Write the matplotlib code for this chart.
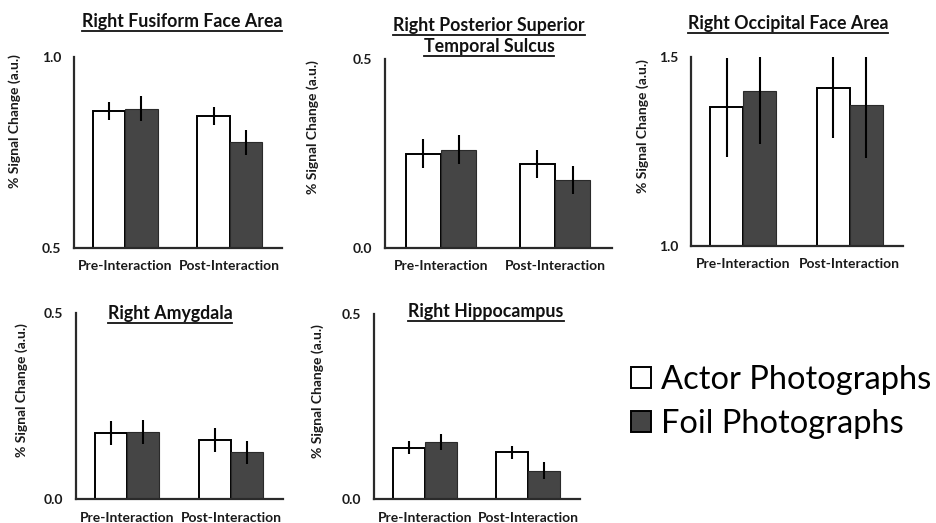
import matplotlib
matplotlib.use('Agg')
import matplotlib.pyplot as plt
from matplotlib.patches import Patch

plt.rcParams['font.family'] = ['Lato', 'DejaVu Sans']

# Datos
condicoes = ['Pre-Interaction', 'Post-Interaction']
series = ['Actor Photographs', 'Foil Photographs']

rffa_actor = [0.859, 0.846]
rffa_actor_err = [0.024, 0.023]
rffa_foil = [0.865, 0.777]
rffa_foil_err = [0.033, 0.033]

rpsts_actor = [0.250, 0.221]
rpsts_actor_err = [0.038, 0.037]
rpsts_foil = [0.260, 0.180]
rpsts_foil_err = [0.038, 0.038]

rofa_actor = [1.367, 1.417]
rofa_actor_err = [0.131, 0.131]
rofa_foil = [1.409, 1.373]
rofa_foil_err = [0.140, 0.141]

ramy_actor = [0.177, 0.158]
ramy_actor_err = [0.032, 0.032]
ramy_foil = [0.180, 0.126]
ramy_foil_err = [0.032, 0.031]

rhip_actor = [0.139, 0.126]
rhip_actor_err = [0.017, 0.017]
rhip_foil = [0.154, 0.077]
rhip_foil_err = [0.022, 0.022]

W, H = 937, 523
cor_escura = '#454545'

fig = plt.figure(figsize=(W / 100, H / 100), dpi=100)


def eixo(left, top, right, bottom):
    return fig.add_axes([left / W, 1 - bottom / H, (right - left) / W, (bottom - top) / H])


def plotar_painel(ax, actor, actor_err, foil, foil_err, ylim):
    x = range(len(condicoes))
    larg = 0.31
    xa = [i - larg / 2 for i in x]
    xf = [i + larg / 2 for i in x]
    ax.bar(xa, actor, larg, color='white', edgecolor='black', linewidth=1.4, zorder=2)
    ax.bar(xf, foil, larg, color=cor_escura, edgecolor='#2a2a2a', linewidth=0.8, zorder=2)
    ax.errorbar(xa, actor, yerr=actor_err, fmt='none', ecolor='black', elinewidth=1.5, capsize=0, zorder=3)
    ax.errorbar(xf, foil, yerr=foil_err, fmt='none', ecolor='black', elinewidth=1.5, capsize=0, zorder=3)
    ax.set_xlim(-0.49, 1.5)
    ax.set_ylim(*ylim)
    ax.set_yticks(list(ylim))
    ax.set_yticklabels(['%.1f' % v for v in ylim])
    ax.set_xticks(list(x))
    ax.set_xticklabels(condicoes)
    ax.tick_params(length=0, labelsize=10)
    ax.tick_params(axis='y', pad=9)
    ax.tick_params(axis='x', pad=9)
    for lbl in ax.get_xticklabels() + ax.get_yticklabels():
        lbl.set_fontweight('bold')
        lbl.set_color('#1a1a1a')
    for s in ['top', 'right']:
        ax.spines[s].set_visible(False)
    for s in ['left', 'bottom']:
        ax.spines[s].set_linewidth(1.6)
        ax.spines[s].set_color('#2a2a2a')
    ax.patch.set_alpha(0)


def ylabel(xc, yc):
    fig.text(xc / W, 1 - yc / H, '% Signal Change (a.u.)', rotation=90, ha='center', va='center',
             fontsize=10, fontweight='bold', color='#1a1a1a')


titulos = []


def titulo(texto, xc, yb):
    t = fig.text(xc / W, 1 - yb / H, texto, ha='center', va='baseline', fontsize=12.8,
                 fontweight='bold', color='#111111')
    titulos.append((t, yb))


ax1 = eixo(74, 57, 282, 248)
plotar_painel(ax1, rffa_actor, rffa_actor_err, rffa_foil, rffa_foil_err, (0.5, 1.0))
ax2 = eixo(385, 59, 612, 248)
plotar_painel(ax2, rpsts_actor, rpsts_actor_err, rpsts_foil, rpsts_foil_err, (0.0, 0.5))
ax3 = eixo(691, 57, 903, 246)
plotar_painel(ax3, rofa_actor, rofa_actor_err, rofa_foil, rofa_foil_err, (1.0, 1.5))
ax4 = eixo(76, 313, 283, 499)
plotar_painel(ax4, ramy_actor, ramy_actor_err, ramy_foil, ramy_foil_err, (0.0, 0.5))
ax5 = eixo(374, 314, 580, 499)
plotar_painel(ax5, rhip_actor, rhip_actor_err, rhip_foil, rhip_foil_err, (0.0, 0.5))

ylabel(15, 121)
ylabel(313, 127)
ylabel(643, 126)
ylabel(22, 390)
ylabel(318, 391)

titulo('Right Fusiform Face Area', 182, 27)
titulo('Right Posterior Superior', 489, 31)
titulo('Temporal Sulcus', 489, 52)
titulo('Right Occipital Face Area', 788, 29)
titulo('Right Amygdala', 170, 319)
titulo('Right Hippocampus', 486, 317)

# sublinhado dos títulos
renderer = fig.canvas.get_renderer()
for t, yb in titulos:
    bb = t.get_window_extent(renderer)
    y = 1 - (yb + 3.5) / H
    fig.add_artist(plt.Line2D([bb.x0 / W, bb.x1 / W], [y, y], color='#111111', linewidth=1.3,
                              transform=fig.transFigure))

handles = [Patch(facecolor='white', edgecolor='black', linewidth=1.4),
           Patch(facecolor=cor_escura, edgecolor='black', linewidth=1.4)]
fig.legend(handles, series, loc='center left', bbox_to_anchor=(631 / W, 1 - 402 / H),
           frameon=False, fontsize=23.5, handlelength=0.62, handleheight=0.62,
           handletextpad=0.3, labelspacing=0.45, borderaxespad=0, borderpad=0)

fig.savefig('out.png', dpi=100)
